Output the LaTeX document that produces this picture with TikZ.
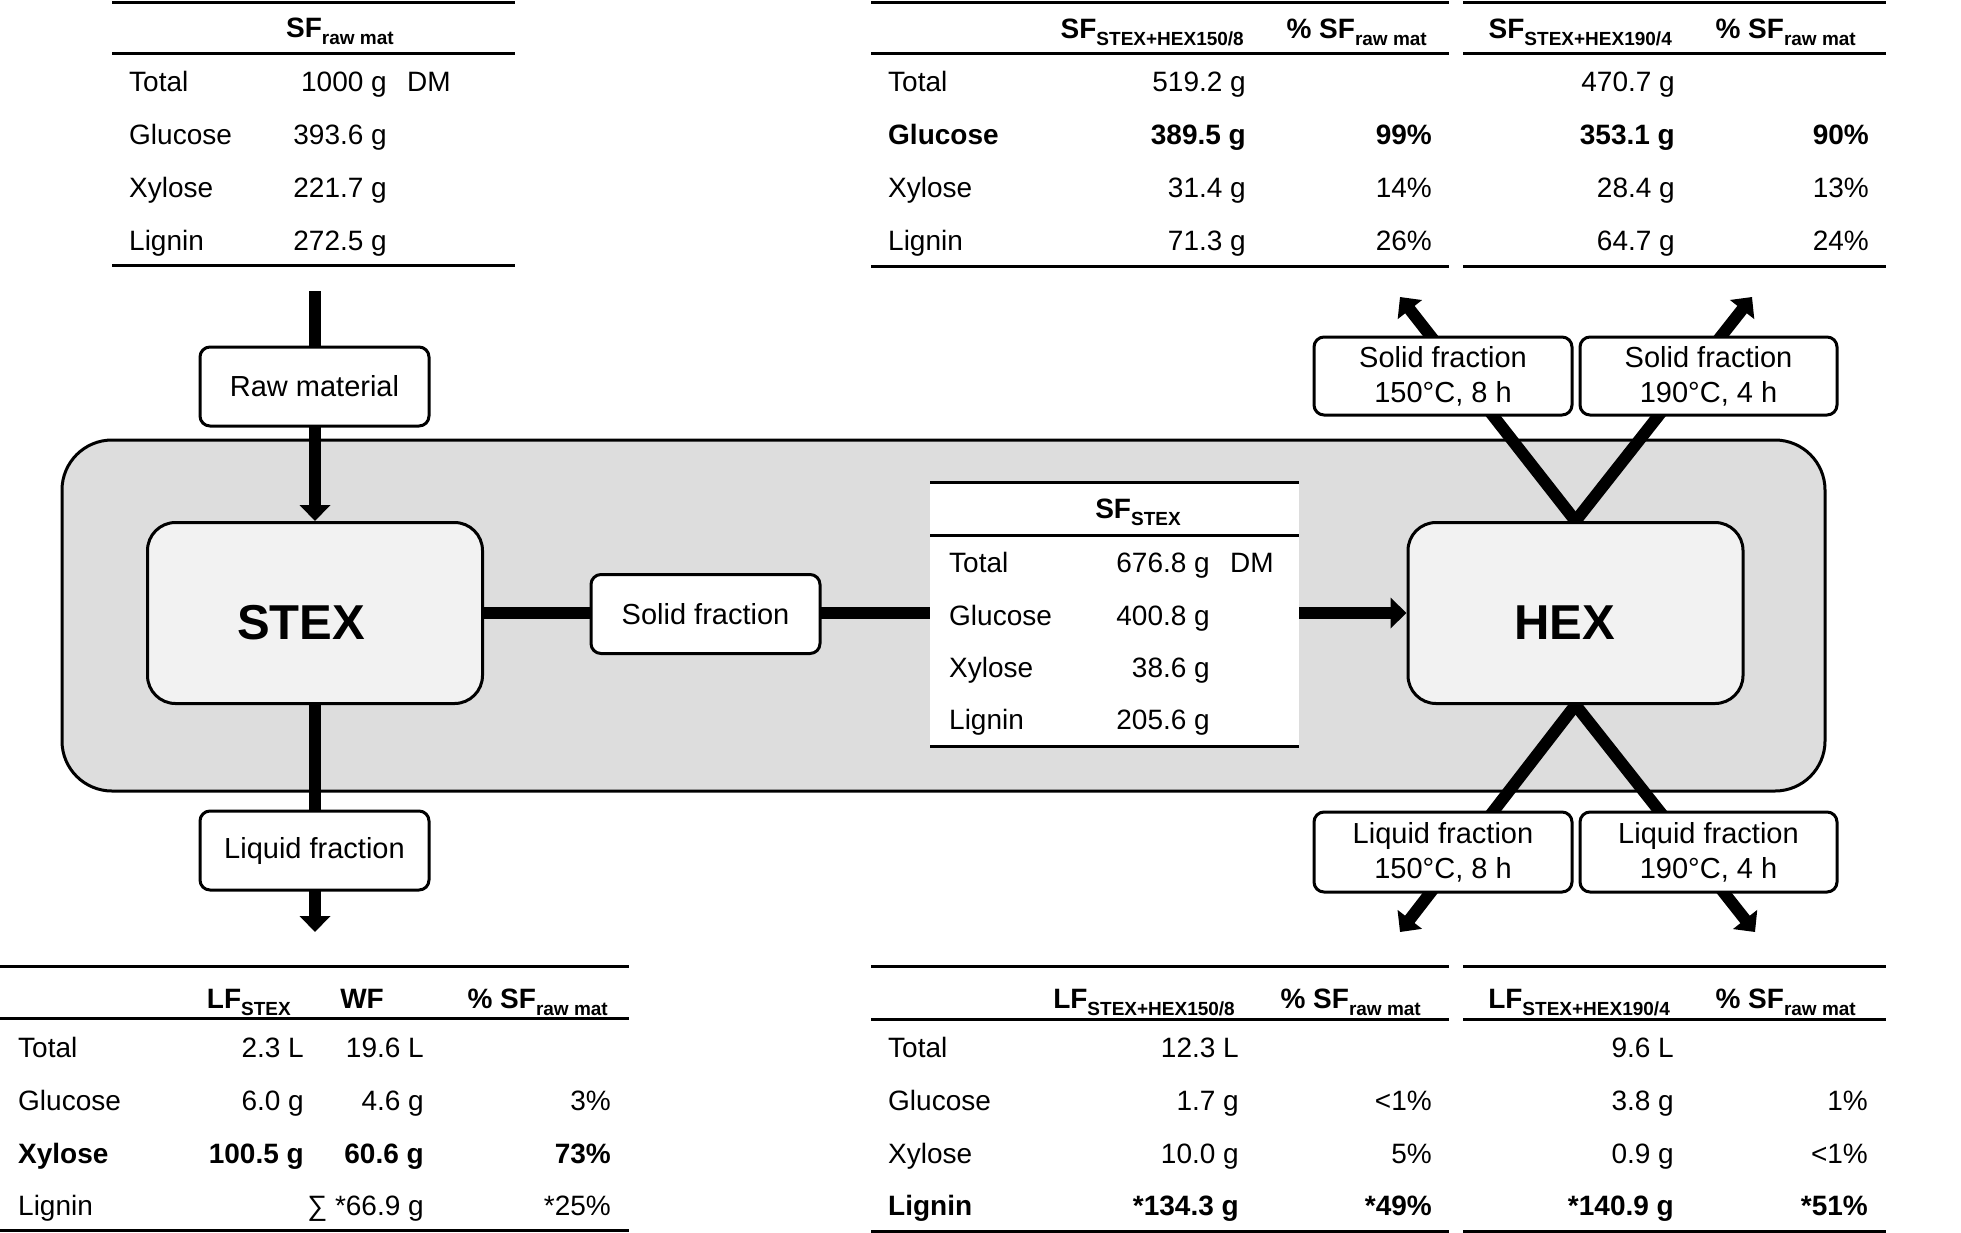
\documentclass[tikz,border=0pt]{standalone}
\usepackage{fontspec}
\setmainfont{Liberation Sans}
\usetikzlibrary{arrows.meta}
\pgfdeclarelayer{back}
\pgfdeclarelayer{conn}
\pgfsetlayers{back,conn,main}
\definecolor{boxgray}{HTML}{F2F2F2}
\definecolor{panelgray}{HTML}{DDDDDD}
\newcommand\hd[2]{\textbf{#1}\raisebox{-7pt}{\fontsize{19}{20}\selectfont\bfseries #2}}
\newcommand\tbfont{\fontsize{28}{34}\selectfont}
\newcommand\bxfont{\fontsize{29}{35}\selectfont}
\tikzset{
 cell/.style={inner sep=0pt, font=\tbfont},
 cl/.style={cell, anchor=base west},
 cr/.style={cell, anchor=base east},
 rule/.style={line width=3pt},
 smallbox/.style={draw, line width=3pt, fill=white, rounded corners=10pt, font=\bxfont, align=center, inner sep=0pt},
 bigbox/.style={draw, line width=3pt, fill=boxgray, rounded corners=28pt, inner sep=0pt, minimum width=335pt, minimum height=181pt, font=\fontsize{49}{55}\selectfont\bfseries},
 conn/.style={line width=12pt},
 arr/.style={conn, -{Triangle[width=30pt,length=16pt]}},
}
\begin{document}
\begin{tikzpicture}[x=1pt,y=-1pt]
\useasboundingbox (0,0) rectangle (1961,1232);

% panel
\begin{pgfonlayer}{back}
\node[draw, line width=3pt, fill=panelgray, rounded corners=50pt, minimum width=1763pt, minimum height=351pt, inner sep=0pt] (panel) at (943.5,615.5) {};
\end{pgfonlayer}

% process boxes
\node[bigbox] (stex) at (315,613) {\rule{0pt}{53pt}STEX\hspace*{28pt}};
\node[bigbox] (hex) at (1575.5,613) {\rule{0pt}{53pt}HEX\hspace*{22pt}};
\node[smallbox, minimum width=229pt, minimum height=79pt] (raw) at (314.5,386.5) {Raw material};
\node[smallbox, minimum width=229pt, minimum height=79pt] (solid) at (705.5,614) {Solid fraction};
\node[smallbox, minimum width=229pt, minimum height=79pt] (liquid) at (314.5,850.5) {Liquid fraction};
\node[smallbox, minimum width=258pt, minimum height=78pt] (sfA) at (1443,376) {Solid fraction\\150°C, 8 h};
\node[smallbox, minimum width=257pt, minimum height=78pt] (sfB) at (1708.5,376) {Solid fraction\\190°C, 4 h};
\node[smallbox, minimum width=258pt, minimum height=80pt] (lfA) at (1443,852) {Liquid fraction\\150°C, 8 h};
\node[smallbox, minimum width=257pt, minimum height=80pt] (lfB) at (1708.5,852) {Liquid fraction\\190°C, 4 h};

% free ends
\coordinate (rawtop) at (315,291);
\coordinate (lftip) at (315,932);
\coordinate (sftipL) at (1400,297);
\coordinate (sftipR) at (1752,297);
\coordinate (lftipL) at (1400,932);
\coordinate (lftipR) at (1755,932);

% middle table background
\node[fill=white, inner sep=0pt, minimum width=369pt, minimum height=264pt] (sftab) at (1114.5,614) {};

\begin{pgfonlayer}{conn}
\draw[arr] (rawtop) -- (stex.north);
\draw[arr] (stex.south) -- (lftip);
\draw[arr] (stex.east) -- (hex.west);
\draw[arr] (hex.north) -- (sftipL);
\draw[arr] (hex.north) -- (sftipR);
\draw[arr] (hex.south) -- (lftipL);
\draw[arr] (hex.south) -- (lftipR);
\end{pgfonlayer}

% ---- middle table SF_STEX
\draw[rule] (930,482) -- (1299,482);
\draw[rule] (930,535) -- (1299,535);
\draw[rule] (930,746) -- (1299,746);
\node[cell, anchor=base] (mH) at (1138,518) {\hd{SF}{STEX}};
\node[cl] (mL1) at (949,572) {Total};
\node[cr] (mV1) at (1210,572) {676.8 g};
\node[cl] (mU1) at (1230,572) {DM};
\node[cl] (mL2) at (949,625) {Glucose};
\node[cr] (mV2) at (1210,625) {400.8 g};
\node[cl] (mL3) at (949,677) {Xylose};
\node[cr] (mV3) at (1210,677) {38.6 g};
\node[cl] (mL4) at (949,729) {Lignin};
\node[cr] (mV4) at (1210,729) {205.6 g};

% ---- top-left table SF_raw mat
\draw[rule] (112,2) -- (515,2);
\draw[rule] (112,53) -- (515,53);
\draw[rule] (112,265) -- (515,265);
\node[cell, anchor=base] (aH) at (340,37) {\hd{SF}{raw mat}};
\node[cl] (aL1) at (129,91) {Total};
\node[cr] (aV1) at (387,91) {1000 g};
\node[cl] (aU1) at (407,91) {DM};
\node[cl] (aL2) at (129,144) {Glucose};
\node[cr] (aV2) at (387,144) {393.6 g};
\node[cl] (aL3) at (129,197) {Xylose};
\node[cr] (aV3) at (387,197) {221.7 g};
\node[cl] (aL4) at (129,250) {Lignin};
\node[cr] (aV4) at (387,250) {272.5 g};

% ---- top-right tables
\draw[rule] (871,2) -- (1449,2);
\draw[rule] (871,53) -- (1449,53);
\draw[rule] (871,266) -- (1449,266);
\draw[rule] (1463,2) -- (1886,2);
\draw[rule] (1463,53) -- (1886,53);
\draw[rule] (1463,266) -- (1886,266);
\node[cr] (bH1) at (1244,38) {\hd{SF}{STEX+HEX150/8}};
\node[cr] (bH2) at (1427,38) {\hd{\% SF}{raw mat}};
\node[cr] (cH1) at (1672,38) {\hd{SF}{STEX+HEX190/4}};
\node[cr] (cH2) at (1856,38) {\hd{\% SF}{raw mat}};
\node[cl] (bL1) at (888,91) {Total};
\node[cl] (bL2) at (888,144) {\textbf{Glucose}};
\node[cl] (bL3) at (888,197) {Xylose};
\node[cl] (bL4) at (888,250) {Lignin};
\node[cr] (bV1) at (1246,91) {519.2 g};
\node[cr] (bV2) at (1246,144) {\textbf{389.5 g}};
\node[cr] (bV3) at (1246,197) {31.4 g};
\node[cr] (bV4) at (1246,250) {71.3 g};
\node[cr] (bP2) at (1432,144) {\textbf{99\%}};
\node[cr] (bP3) at (1432,197) {14\%};
\node[cr] (bP4) at (1432,250) {26\%};
\node[cr] (cV1) at (1675,91) {470.7 g};
\node[cr] (cV2) at (1675,144) {\textbf{353.1 g}};
\node[cr] (cV3) at (1675,197) {28.4 g};
\node[cr] (cV4) at (1675,250) {64.7 g};
\node[cr] (cP2) at (1869,144) {\textbf{90\%}};
\node[cr] (cP3) at (1869,197) {13\%};
\node[cr] (cP4) at (1869,250) {24\%};

% ---- bottom-left table
\draw[rule] (0,966) -- (629,966);
\draw[rule] (0,1018) -- (629,1018);
\draw[rule] (0,1230) -- (629,1230);
\node[cr] (dH1) at (291,1008) {\hd{LF}{STEX}};
\node[cr] (dH2) at (384,1008) {\textbf{WF}};
\node[cr] (dH3) at (608,1008) {\hd{\% SF}{raw mat}};
\node[cl] (dL1) at (18,1057) {Total};
\node[cl] (dL2) at (18,1110) {Glucose};
\node[cl] (dL3) at (18,1163) {\textbf{Xylose}};
\node[cl] (dL4) at (18,1215) {Lignin};
\node[cr] (dA1) at (304,1057) {2.3 L};
\node[cr] (dA2) at (304,1110) {6.0 g};
\node[cr] (dA3) at (304,1163) {\textbf{100.5 g}};
\node[cr] (dB1) at (424,1057) {19.6 L};
\node[cr] (dB2) at (424,1110) {4.6 g};
\node[cr] (dB3) at (424,1163) {\textbf{60.6 g}};
\node[cr] (dB4) at (424,1215) {∑ *66.9 g};
\node[cr] (dC2) at (611,1110) {3\%};
\node[cr] (dC3) at (611,1163) {\textbf{73\%}};
\node[cr] (dC4) at (611,1215) {*25\%};

% ---- bottom-right tables
\draw[rule] (871,966) -- (1449,966);
\draw[rule] (871,1019) -- (1449,1019);
\draw[rule] (871,1231) -- (1449,1231);
\draw[rule] (1463,966) -- (1886,966);
\draw[rule] (1463,1019) -- (1886,1019);
\draw[rule] (1463,1231) -- (1886,1231);
\node[cr] (eH1) at (1235,1008) {\hd{LF}{STEX+HEX150/8}};
\node[cr] (eH2) at (1421,1008) {\hd{\% SF}{raw mat}};
\node[cr] (fH1) at (1670,1008) {\hd{LF}{STEX+HEX190/4}};
\node[cr] (fH2) at (1856,1008) {\hd{\% SF}{raw mat}};
\node[cl] (eL1) at (888,1057) {Total};
\node[cl] (eL2) at (888,1110) {Glucose};
\node[cl] (eL3) at (888,1163) {Xylose};
\node[cl] (eL4) at (888,1215) {\textbf{Lignin}};
\node[cr] (eV1) at (1239,1057) {12.3 L};
\node[cr] (eV2) at (1239,1110) {1.7 g};
\node[cr] (eV3) at (1239,1163) {10.0 g};
\node[cr] (eV4) at (1239,1215) {\textbf{*134.3 g}};
\node[cr] (eP2) at (1432,1110) {<1\%};
\node[cr] (eP3) at (1432,1163) {5\%};
\node[cr] (eP4) at (1432,1215) {\textbf{*49\%}};
\node[cr] (fV1) at (1674,1057) {9.6 L};
\node[cr] (fV2) at (1674,1110) {3.8 g};
\node[cr] (fV3) at (1674,1163) {0.9 g};
\node[cr] (fV4) at (1674,1215) {\textbf{*140.9 g}};
\node[cr] (fP2) at (1868,1110) {1\%};
\node[cr] (fP3) at (1868,1163) {<1\%};
\node[cr] (fP4) at (1868,1215) {\textbf{*51\%}};
\end{tikzpicture}
\end{document}
